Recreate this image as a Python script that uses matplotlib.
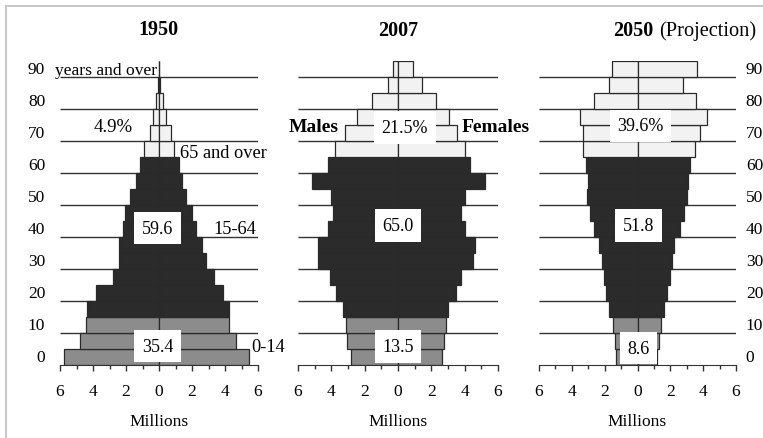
#################################################################################
# data (millions, by 5-year age group, 0-4 ... 90+)
#################################################################################
AGE_START = [0, 5, 10, 15, 20, 25, 30, 35, 40, 45, 50, 55, 60, 65, 70, 75, 80, 85, 90]

MALES_1950 = [5.74, 4.79, 4.42, 4.34, 3.82, 2.81, 2.41, 2.41, 2.20, 2.08,
              1.78, 1.41, 1.15, 0.89, 0.55, 0.35, 0.16, 0.05, 0.02]
FEMALES_1950 = [5.44, 4.69, 4.22, 4.22, 3.86, 3.33, 2.85, 2.61, 2.24, 2.00,
                1.64, 1.41, 1.21, 0.91, 0.71, 0.41, 0.22, 0.06, 0.02]

MALES_2007 = [2.84, 3.04, 3.12, 3.32, 3.74, 4.06, 4.82, 4.82, 4.22, 3.92,
              4.04, 5.18, 4.22, 3.78, 3.18, 2.44, 1.54, 0.62, 0.32]
FEMALES_2007 = [2.62, 2.78, 2.86, 3.02, 3.48, 3.78, 4.52, 4.62, 4.02, 3.78,
                4.02, 5.22, 4.32, 4.02, 3.56, 3.08, 2.28, 1.42, 0.88]

MALES_2050 = [1.28, 1.38, 1.52, 1.75, 1.89, 2.05, 2.15, 2.36, 2.62, 2.92,
              3.05, 3.00, 3.13, 3.31, 3.35, 3.49, 2.68, 1.75, 1.58]
FEMALES_2050 = [1.20, 1.34, 1.46, 1.64, 1.81, 1.95, 2.13, 2.25, 2.58, 2.86,
                3.02, 3.06, 3.19, 3.49, 3.78, 4.24, 3.57, 2.78, 3.63]

SHARES_1950 = ['35.4', '59.6', '4.9%']
SHARES_2007 = ['13.5', '65.0', '21.5%']
SHARES_2050 = ['8.6', '51.8', '39.6%']

Y_LABELS = ['0', '10', '20', '30', '40', '50', '60', '70', '80', '90']
X_TICKS = [-6, -4, -2, 0, 2, 4, 6]

#################################################################################
# plot
#################################################################################
import matplotlib
matplotlib.use('Agg')
import matplotlib.pyplot as plt
from matplotlib.patches import Rectangle

plt.rcParams['font.family'] = ['Liberation Serif', 'DejaVu Serif']
plt.rcParams['font.size'] = 12

W, H = 763, 439
fig = plt.figure(figsize=(W / 100, H / 100), dpi=100)

# light grey frame (open to the right and bottom)
fig.patches.append(Rectangle((6 / W, -0.1), 1.2, 1 - 7 / H + 0.1,
                             transform=fig.transFigure, fill=False,
                             edgecolor='#c8c8c8', linewidth=1.5))

C_YOUNG = '#8c8c8c'
C_WORK = '#2b2b2b'
C_OLD = '#f2f2f2'
EDGE = '#2a2a2a'


def color_for(age):
    if age < 15:
        return C_YOUNG
    if age < 65:
        return C_WORK
    return C_OLD


def pyramid(left_px, width_px, males, females):
    ax = fig.add_axes([left_px / W, (H - 366) / H, width_px / W, 304 / H])
    ax.set_xlim(-6, 6)
    ax.set_ylim(0, 95)
    ax.hlines(range(10, 100, 10), -6, 6, color='#333333', linewidth=1, zorder=1)
    cols = [color_for(a) for a in AGE_START]
    ax.barh(AGE_START, [-m for m in males], height=5, align='edge',
            color=cols, edgecolor=EDGE, linewidth=0.9, zorder=2)
    ax.barh(AGE_START, females, height=5, align='edge',
            color=cols, edgecolor=EDGE, linewidth=0.9, zorder=2)
    for s in ['top', 'left', 'right']:
        ax.spines[s].set_visible(False)
    ax.spines['bottom'].set_color('#333333')
    ax.set_xticks(X_TICKS)
    ax.set_xticklabels([str(abs(t)) for t in X_TICKS])
    ax.set_xticks(range(-6, 7), minor=True)
    ax.tick_params(axis='x', which='major', direction='out', length=4.5,
                   width=1, color='#333333', pad=8.5, labelsize=12.5)
    ax.tick_params(axis='x', which='minor', direction='out', length=3,
                   width=1, color='#333333')
    ax.set_yticks([])
    ax.text(0, -17.5, 'Millions', ha='center', va='center', fontsize=12.5)
    return ax


def share_box(ax, x, y, txt):
    ax.text(x, y, txt, ha='center', va='center', fontsize=13, zorder=5,
            bbox=dict(facecolor='white', edgecolor='none', pad=5.5))


ax1 = pyramid(60, 198, MALES_1950, FEMALES_1950)
ax2 = pyramid(298, 200, MALES_2007, FEMALES_2007)
ax3 = pyramid(539, 197, MALES_2050, FEMALES_2050)

# age labels, left of 1950 and right of 2050
for i, lab in enumerate(Y_LABELS):
    ax1.text(-6.9, i * 10 + 2.5, lab, ha='right', va='center', fontsize=12.5)
    ax3.text(6.6, i * 10 + 2.5, lab, ha='left', va='center', fontsize=12.5)

# 1950
share_box(ax1, -0.1, 5.9, SHARES_1950[0])
share_box(ax1, -0.1, 42.8, SHARES_1950[1])
ax1.text(-2.79, 74.4, SHARES_1950[2], ha='center', va='center', fontsize=13.5)
ax1.text(-6.3, 92.2, 'years and over', ha='left', va='center', fontsize=12.6)
ax1.text(1.27, 66.3, '65 and over', ha='left', va='center', fontsize=13.2)
ax1.text(3.27, 42.8, '15-64', ha='left', va='center', fontsize=13.2)
ax1.text(5.58, 5.9, '0-14', ha='left', va='center', fontsize=13.2)

# 2007
share_box(ax2, 0, 5.8, SHARES_2007[0])
share_box(ax2, 0, 43.6, SHARES_2007[1])
share_box(ax2, 0.42, 74.2, SHARES_2007[2])
ax2.text(-5.04, 74.4, 'Males', ha='center', va='center', fontsize=14,
         fontweight='bold', zorder=5,
         bbox=dict(facecolor='white', edgecolor='none', pad=1))
ax2.text(5.85, 74.4, 'Females', ha='center', va='center', fontsize=14,
         fontweight='bold', zorder=5,
         bbox=dict(facecolor='white', edgecolor='none', pad=1))

# 2050
share_box(ax3, 0.06, 5.3, SHARES_2050[0])
share_box(ax3, 0.06, 43.6, SHARES_2050[1])
share_box(ax3, 0.18, 74.8, SHARES_2050[2])

# titles
fig.text(158 / W, 1 - 30 / H, '1950', ha='center', va='center',
         fontsize=14.5, fontweight='bold')
fig.text(398 / W, 1 - 31 / H, '2007', ha='center', va='center',
         fontsize=14.5, fontweight='bold')
fig.text(613 / W, 1 - 31 / H, '2050', ha='left', va='center',
         fontsize=14.5, fontweight='bold')
fig.text(659 / W, 1 - 31 / H, '(Projection)', ha='left', va='center',
         fontsize=14.7)

fig.savefig('out.png', dpi=100)
